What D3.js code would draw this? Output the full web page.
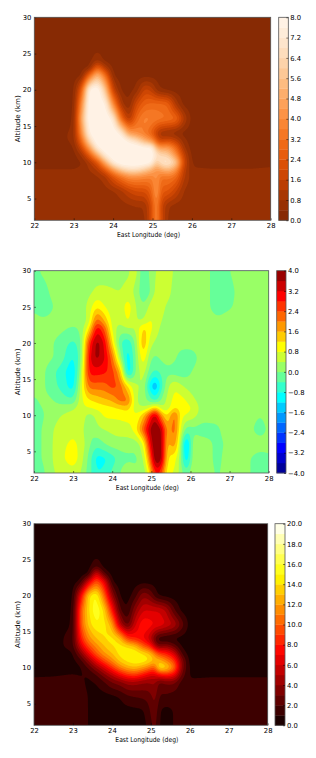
<!DOCTYPE html>
<html>
<head>
<meta charset="utf-8">
<script src="https://cdn.jsdelivr.net/npm/d3@7"></script>
<style>
html, body { margin: 0; padding: 0; background: #fff; }
svg { display: block; }
text { font-family: "DejaVu Sans", sans-serif; font-size: 6.8px; fill: #000; }
</style>
</head>
<body>
<svg id="chart" width="316" height="758"></svg>
<script>
var xTicks = [22, 23, 24, 25, 26, 27, 28];
var yTicks = [5, 10, 15, 20, 25, 30];
var xLabel = "East Longitude (deg)";
var yLabel = "Altitude (km)";

/* grid of panels 1 and 3 */
var plumeLons = [22, 22.5, 23, 23.2, 23.4, 23.6, 23.8, 24, 24.2, 24.4, 24.6, 24.8, 25, 25.1, 25.2, 25.4, 25.6, 25.8, 26, 26.5, 27, 27.5, 28];
var plumeAlts = [30, 26, 24, 23, 22, 20, 18, 16, 14, 13, 12, 11, 10, 9, 8, 6, 4, 2];

/* grid of panel 2 */
var diffLons = [22, 22.2, 22.4, 22.7, 23, 23.2, 23.4, 23.6, 23.8, 24, 24.2, 24.4, 24.6, 24.8, 24.95, 25.1, 25.25, 25.4, 25.6, 25.75, 25.9, 26.05, 26.3, 26.7, 27, 27.4, 27.8, 28];
var diffAlts = [30, 27, 25, 23, 22, 20, 18, 16, 14, 12, 11, 10, 8, 6, 4, 2];

var orangeGrid = [
    [.2,.2,.2,.2,.2,.2,.2,.2,.2,.2,.2,.2,.2,.2,.2,.2,.2,.2,.2,.2,.2,.2,.2],
    [.2,.2,.2,.2,.2,.2,.2,.2,.2,.2,.2,.2,.2,.2,.2,.2,.2,.2,.2,.2,.2,.2,.2],
    [.2,.2,.2,.2,.2,.8,.2,.2,.2,.2,.2,.2,.2,.2,.2,.2,.2,.2,.2,.2,.2,.2,.2],
    [.2,.2,.2,.2,.3,3,1.2,.2,.2,.2,.2,.2,.2,.2,.2,.2,.2,.2,.2,.2,.2,.2,.2],
    [.2,.2,.2,.2,3,5.5,3.2,.3,.2,.2,.2,.2,.2,.2,.2,.2,.2,.2,.2,.2,.2,.2,.2],
    [.2,.2,.2,2.5,8,8.4,5.8,1.5,.3,.2,.5,1.8,1.4,.6,.4,.2,.2,.2,.2,.2,.2,.2,.2],
    [.2,.2,.2,4,8.4,8.4,7.8,4,1,.3,2,2.8,3,3,3,2.8,1,.2,.2,.2,.2,.2,.2],
    [.2,.2,.3,5,8.4,8.4,8.4,7.4,3,1,3,3.8,3.6,3.5,3.4,3.2,3,1.2,.2,.2,.2,.2,.2],
    [.2,.2,.5,4,7.8,8.4,8.4,8.4,7.4,4.5,4,3.5,2.5,1.5,.8,.6,.4,.2,.2,.2,.2,.2,.2],
    [.2,.2,.5,3,6.5,8.4,8.4,8.4,8.4,7.4,6.5,5,4,2.5,1.5,2,1.5,.5,.2,.2,.2,.2,.2],
    [.2,.2,.3,1.8,4.5,7.5,8.4,8.4,8.4,8.4,8.4,8,8,5,4.5,4.5,3,.8,.2,.2,.2,.2,.2],
    [.2,.2,.2,.8,2.5,5,7.5,8.4,8.4,8.4,8.4,8.4,8,7,6.5,6,4,1.5,.2,.2,.2,.2,.2],
    [.25,.25,.25,.3,1,2.2,5,7.5,8.4,8.4,8.4,8.4,7.8,5.5,7,7.4,6,1.8,.3,.3,.3,.3,.3],
    [.4,.4,.4,.5,.8,1.2,2.5,4.5,6,6.8,6.8,6,5,4,4.8,5.4,4.2,1.4,.45,.4,.4,.4,.45],
    [.6,.6,.6,.6,.6,.7,1,2.2,3.2,4,4,3.8,3.6,4.5,3.2,3.4,3,1.2,.6,.6,.6,.6,.6],
    [.6,.6,.6,.6,.6,.6,.6,.7,1,1.6,2,2,2.8,5,2.5,2.4,1.6,.7,.6,.6,.6,.6,.6],
    [.6,.6,.6,.6,.6,.6,.6,.6,.6,.7,.8,.8,2.2,4.5,1.8,.8,.6,.6,.6,.6,.6,.6,.6],
    [.6,.6,.6,.6,.6,.6,.6,.6,.6,.6,.6,.6,2.2,4.5,2,.6,.6,.6,.6,.6,.6,.6,.6]
];

var jetGrid = [
    [-.2,.1,.2,.2,.2,.2,.2,.2,.2,.2,.2,.3,.7,-.5,.1,.4,.5,.7,.3,.2,.2,.2,.2,-.2,0,.2,.2,.2],
    [-.4,-.3,.05,.2,.2,.2,.3,.5,.5,.45,.4,.6,.3,-.4,-.1,.5,.7,.6,.2,.2,.2,.2,.2,-.2,-.1,.2,.2,.2],
    [-.1,-.3,-.1,.2,.2,.2,.5,1.2,.8,.5,.5,1.1,.4,0,.5,.9,.6,.3,.2,.2,.2,.2,.2,-.2,-.05,.2,.2,.2],
    [.2,.1,.1,.2,.2,.1,.5,2.4,1.6,.6,.45,.9,.4,.4,.9,.7,.4,.2,.2,.2,.2,.2,.2,.1,.2,.2,.2,.2],
    [.2,.2,.2,.1,-.1,.1,1,3.2,2.4,.6,.2,.4,.4,1.4,1,.6,.3,.2,.2,.2,.2,.2,.2,.2,.2,.2,.2,.2],
    [.2,.2,.1,-.2,-.5,-.2,2.6,3.9,3.2,1.2,-.4,-.8,.1,1.8,.6,.3,.25,.2,.2,.2,.2,.2,.2,.2,.2,.2,.2,.2],
    [.2,.2,.1,-.2,-.9,-.2,3.1,3.8,3.3,2.2,.2,-1.2,0,1.3,.1,-.1,.1,.2,.1,-.2,-.3,-.2,.2,.2,.2,.2,.2,.2],
    [.2,.15,-.2,-.6,-1.2,.2,3,3,2.9,2.6,1.7,-1.4,.1,.7,-.2,-.5,-.3,-.1,-.2,-.3,-.2,.05,.2,.2,.2,.2,.2,.2],
    [.2,.15,-.2,-.5,-1.1,.6,2.2,2.2,2.2,2.6,2.3,1.2,.4,.4,-1,-1.8,-.6,.3,.8,.5,.3,.2,.2,.2,.2,.2,.2,.2],
    [-.1,.1,.1,-.2,-.3,.7,1.1,1.3,1.5,1.6,2.2,2.2,.4,.2,-.1,-.6,.1,.5,1,1,.8,.5,.2,.2,.2,.2,.2,.2],
    [-.2,0,.15,.2,.3,.7,.8,.9,1,1.1,1.2,1.4,.5,.4,.6,1.6,.4,.5,1.2,1,1,.8,.2,.2,.2,.2,.2,.2],
    [-.2,-.1,.2,.4,.6,.7,.2,.5,.9,.9,.9,1,.8,1.4,2.6,3.7,1.8,1,2.4,.9,.8,.6,.2,.1,.1,.2,0,.2],
    [-.2,0,.3,.6,.7,.6,0,.3,.4,.5,.6,.6,1,2.4,3.6,4.2,3.8,1.6,2.4,.7,-.3,-.1,-.2,-.05,.2,.2,-.2,.1],
    [-.2,0,.3,.7,.9,.7,.1,-.3,0,.2,.2,.2,.1,.7,3,4.2,4,1.3,2,.3,-1.9,.3,.2,-.1,.1,.2,.2,.2],
    [-.2,0,.3,.7,1.1,.6,-.1,-1,-.9,-.6,-.2,-.1,-.1,.3,2,4.2,4,1.1,1,.2,-1.5,.3,.2,-.1,.2,.1,-.2,-.1],
    [-.2,-.2,.3,.5,.6,.4,-.2,-.8,-.7,-.3,0,.4,.1,0,1,3,2.6,.8,.8,.2,-.3,.4,.2,-.05,.2,.1,-.2,-.2]
];

var hotGrid = [
    [.5,.5,.5,.5,.5,.5,.5,.5,.5,.5,.5,.5,.5,.5,.5,.5,.5,.5,.5,.5,.5,.5,.5],
    [.5,.5,.5,.5,.5,.5,.5,.5,.5,.5,.5,.5,.5,.5,.5,.5,.5,.5,.5,.5,.5,.5,.5],
    [.5,.5,.5,.5,.5,2,.5,.5,.5,.5,.5,.5,.5,.5,.5,.5,.5,.5,.5,.5,.5,.5,.5],
    [.5,.5,.5,.5,.6,7,2,.5,.5,.5,.5,.5,.5,.5,.5,.5,.5,.5,.5,.5,.5,.5,.5],
    [.5,.5,.5,1,6,10,7,.8,.5,.5,.5,.5,.5,.5,.5,.5,.5,.5,.5,.5,.5,.5,.5],
    [.5,.5,.6,7,14,15.5,10.5,4,.8,.5,1.5,4,3,1.5,.8,.5,.5,.5,.5,.5,.5,.5,.5],
    [.5,.5,.8,10,14,16,14,8,2,.8,4,6,6,6,6,5,2,.6,.5,.5,.5,.5,.5],
    [.5,.5,1,10,13.5,15,14.5,12.5,5,2,6,8,7.5,7,7,6,5,2.5,.5,.5,.5,.5,.5],
    [.5,.5,1.5,8,11.5,13,14,14.5,13.5,9,8,7,5,2.5,1,.8,.6,.5,.5,.5,.5,.5,.5],
    [.5,.5,1.5,6,9.5,11.5,13,14,14.5,14,13,10,8,5,3,4,2.5,.7,.5,.5,.5,.5,.5],
    [.5,.5,.8,3.5,7,10,12,13,14.5,15,15,14,13,11,9,8,6,1.5,.5,.5,.5,.5,.5],
    [.5,.5,.7,1.5,4,7,9.5,11.5,13.5,14.5,15,15,14,13,13,11,9,3.5,.5,.5,.5,.5,.5],
    [.6,.6,.7,.8,2,4,6,8.5,11,12.5,13,12,10.5,9,15,14,11,3.5,.7,.6,.6,.6,.6],
    [.9,.95,1.05,.95,1,1.8,3.5,5,7,8.5,9,7.5,6,6,7,8,7,2.5,.8,.9,.9,.9,.9],
    [1.2,1.2,1.3,1.15,.85,1,1.8,3,3.5,4.5,4.5,4,4,4.5,2.5,3.2,3.2,1.4,1.2,1.2,1.2,1.2,1.2],
    [1.2,1.2,1.2,1.2,1,.6,.6,.7,1,1.8,2,2.2,2.5,4,1.8,1.8,1.4,1.2,1.2,1.2,1.2,1.2,1.2],
    [1.2,1.2,1.2,1.2,1.02,.5,.5,.5,.5,.6,.7,.8,2,3.5,1,.6,1.1,1.2,1.2,1.2,1.2,1.2,1.2],
    [1.2,1.2,1.2,1.2,1.02,.5,.5,.5,.5,.5,.6,.6,1.5,3,.8,.6,1.1,1.2,1.2,1.2,1.2,1.2,1.2]
];

var orangeLevels = d3.range(0, 20.5).map(function (i) { return i * 0.4; });
var jetLevels = d3.range(0, 20.5).map(function (i) { return -4 + i * 0.4; });
var hotLevels = d3.range(0, 20.5);

var orangeTicks = d3.range(0, 11).map(function (i) { return i * 0.8; });
var jetTicks = d3.range(0, 11).map(function (i) { return -4 + i * 0.8; });
var hotTicks = d3.range(0, 11).map(function (i) { return i * 2; });

var jetStops = d3.scaleLinear()
    .domain([0, .125, .375, .625, .875, 1])
    .range(["#00007f", "#0000ff", "#00ffff", "#ffff00", "#ff0000", "#7f0000"]);
var hotStops = d3.scaleLinear()
    .domain([0, .365, .746, 1])
    .range(["#0b0000", "#ff0000", "#ffff00", "#ffffff"]);

function orangeColor(t) {
    return d3.interpolateOranges(1 - t);
}

var svg = d3.select("#chart");
var fineX = 240, fineY = 200;

/* put the read-off grid on a fine regular one, d3.contours needs even cells */
function resample(grid, lons, alts) {
    var ix = d3.scaleLinear().domain(lons).range(d3.range(lons.length));
    var iy = d3.scaleLinear().domain(alts).range(d3.range(alts.length));
    var out = new Float64Array(fineX * fineY);
    for (var j = 0; j < fineY; j++) {
        var fy = iy(30 - (j + 0.5) / fineY * 28);
        var j0 = Math.min(Math.floor(fy), alts.length - 2), v = fy - j0;
        for (var i = 0; i < fineX; i++) {
            var fx = ix(22 + (i + 0.5) / fineX * 6);
            var i0 = Math.min(Math.floor(fx), lons.length - 2), u = fx - i0;
            out[j * fineX + i] = (1 - v) * ((1 - u) * grid[j0][i0] + u * grid[j0][i0 + 1])
                + v * ((1 - u) * grid[j0 + 1][i0] + u * grid[j0 + 1][i0 + 1]);
        }
    }
    d3.blur2({data: out, width: fineX, height: fineY}, 2);
    return out;
}

function draw_panel(p) {
    var x = d3.scaleLinear().domain([22, 28]).range([p.left, p.right]);
    var y = d3.scaleLinear().domain([2, 30]).range([p.bottom, p.top]);
    var xCell = d3.scaleLinear().domain([0, fineX]).range([p.left, p.right]);
    var yCell = d3.scaleLinear().domain([0, fineY]).range([p.top, p.bottom]);

    var path = d3.geoPath(d3.geoTransform({
        point: function (a, b) {
            this.stream.point(xCell(a), yCell(b));
        }
    }));

    var vmin = p.levels[0], vmax = p.levels[p.levels.length - 1];
    function bandColor(i) {
        var mid = (p.levels[i] + p.levels[i + 1]) / 2;
        return p.cmap((mid - vmin) / (vmax - vmin));
    }

    var bands = p.levels.slice(0, -1);
    var contours = d3.contours().size([fineX, fineY]).thresholds(bands)(resample(p.grid, p.lons, p.alts));

    var clipId = "clip" + p.id;
    svg.append("clipPath").attr("id", clipId).append("rect")
        .attr("x", p.left).attr("y", p.top)
        .attr("width", p.right - p.left).attr("height", p.bottom - p.top);

    var plot = svg.append("g").attr("clip-path", "url(#" + clipId + ")");
    plot.append("rect")
        .attr("x", p.left).attr("y", p.top)
        .attr("width", p.right - p.left).attr("height", p.bottom - p.top)
        .attr("fill", p.backColor);
    plot.append("g")
        .style("filter", "blur(0.5px)")
        .selectAll("path")
        .data(contours)
        .enter().append("path")
        .attr("d", path)
        .attr("fill", function (d, i) { return bandColor(i); });

    /* inward ticks on both sides, like the old matplotlib look */
    function style_axis(g) {
        g.selectAll(".domain").remove();
        g.selectAll("line").attr("stroke", "#000").attr("stroke-width", 0.5);
        g.selectAll("text").style("font-size", "6.8px");
    }

    svg.append("g").attr("transform", "translate(0," + p.bottom + ")")
        .call(d3.axisBottom(x).tickValues(xTicks).tickFormat(d3.format("d")).tickSizeInner(-2).tickSizeOuter(0).tickPadding(3))
        .call(style_axis);
    svg.append("g").attr("transform", "translate(" + p.left + ",0)")
        .call(d3.axisLeft(y).tickValues(yTicks).tickFormat(d3.format("d")).tickSizeInner(-2).tickSizeOuter(0).tickPadding(3))
        .call(style_axis);

    svg.append("rect")
        .attr("x", p.left).attr("y", p.top)
        .attr("width", p.right - p.left).attr("height", p.bottom - p.top)
        .attr("fill", "none").attr("stroke", "#555").attr("stroke-width", 0.8);

    /* source picture is squeezed sideways, so the titles are fitted by length */
    svg.append("text").attr("x", (p.left + p.right) / 2 - 4).attr("y", p.bottom + 17)
        .attr("text-anchor", "middle")
        .attr("textLength", 63).attr("lengthAdjust", "spacingAndGlyphs").text(xLabel);
    svg.append("text")
        .attr("transform", "translate(" + (p.left - 14) + "," + ((p.top + p.bottom) / 2) + ") rotate(-90)")
        .attr("text-anchor", "middle")
        .attr("textLength", 47).attr("lengthAdjust", "spacingAndGlyphs").text(yLabel);

    /* colorbar */
    var c = d3.scaleLinear().domain([vmin, vmax]).range([p.bottom, p.top]);
    svg.append("g").selectAll("rect")
        .data(bands)
        .enter().append("rect")
        .attr("x", p.barLeft)
        .attr("width", p.barRight - p.barLeft)
        .attr("y", function (d, i) { return c(p.levels[i + 1]); })
        .attr("height", function (d, i) { return c(p.levels[i]) - c(p.levels[i + 1]) + 0.3; })
        .attr("fill", function (d, i) { return bandColor(i); });
    svg.append("rect")
        .attr("x", p.barLeft).attr("y", p.top)
        .attr("width", p.barRight - p.barLeft).attr("height", p.bottom - p.top)
        .attr("fill", "none").attr("stroke", "#555").attr("stroke-width", 0.8);
    svg.append("g").attr("transform", "translate(" + p.barRight + ",0)")
        .call(d3.axisRight(c).tickValues(p.ticks).tickFormat(d3.format(".1f")).tickSizeInner(-2).tickSizeOuter(0).tickPadding(2))
        .call(style_axis);
}

draw_panel({id: 1, grid: orangeGrid, lons: plumeLons, alts: plumeAlts, levels: orangeLevels, ticks: orangeTicks, cmap: orangeColor, backColor: "#7f2704",
    left: 34.3, right: 270.7, top: 17.3, bottom: 220.3, barLeft: 278.7, barRight: 288.3});
draw_panel({id: 2, grid: jetGrid, lons: diffLons, alts: diffAlts, levels: jetLevels, ticks: jetTicks, cmap: jetStops, backColor: "#90ff70",
    left: 34, right: 268.7, top: 270.7, bottom: 473, barLeft: 276.7, barRight: 286});
draw_panel({id: 3, grid: hotGrid, lons: plumeLons, alts: plumeAlts, levels: hotLevels, ticks: hotTicks, cmap: hotStops, backColor: "#1a0000",
    left: 34, right: 267.7, top: 523.7, bottom: 725.3, barLeft: 275, barRight: 285});
</script>
</body>
</html>
